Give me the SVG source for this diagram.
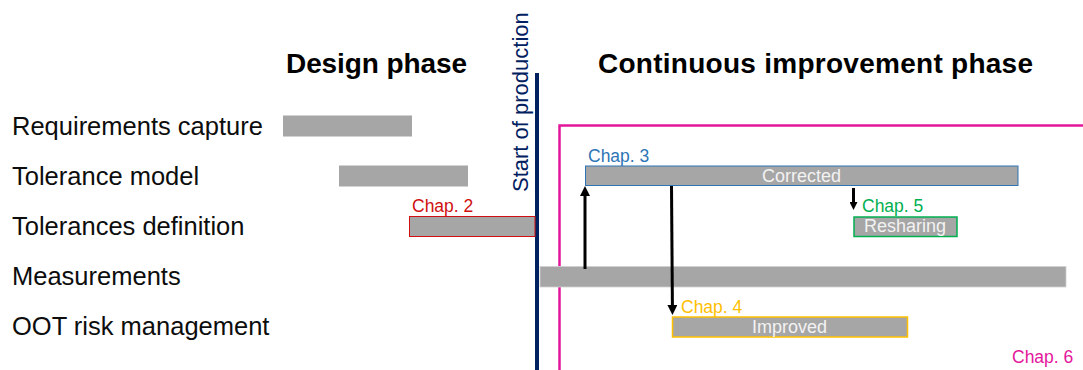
<svg xmlns="http://www.w3.org/2000/svg" width="1083" height="370" viewBox="0 0 1083 370">
<style>
text{font-family:"Liberation Sans",Arial,sans-serif}
.lbl{font-size:25.5px;fill:#0d0d0d}
.head{font-size:28px;font-weight:bold;fill:#000}
.bar{fill:#a6a6a6}
.chap{font-size:17.5px}
.inner{font-size:18px;fill:#f2f2f2;text-anchor:middle}
.conn{stroke:#000;stroke-width:3;fill:none}
</style>
<defs>
<marker id="ah" viewBox="0 0 10 10" refX="0" refY="5" markerWidth="10" markerHeight="10" markerUnits="userSpaceOnUse" orient="auto">
<path d="M0,0 L10,5 L0,10 z" fill="#000"/>
</marker>
<marker id="ahs" viewBox="0 0 10 10" refX="0" refY="5" markerWidth="10" markerHeight="8" markerUnits="userSpaceOnUse" orient="auto">
<path d="M0,0 L10,5 L0,10 z" fill="#000"/>
</marker>
</defs>
<rect width="1083" height="370" fill="#fff"/>

<g id="headings">
<text class="head" x="286" y="73" textLength="181">Design phase</text>
<text class="head" x="598" y="73" textLength="435">Continuous improvement phase</text>
</g>

<g id="row-labels">
<text class="lbl" x="12" y="135">Requirements capture</text>
<text class="lbl" x="12" y="185">Tolerance model</text>
<text class="lbl" x="12" y="235">Tolerances definition</text>
<text class="lbl" x="12" y="285">Measurements</text>
<text class="lbl" x="12" y="335">OOT risk management</text>
</g>

<g id="chap6-frame">
<path d="M1083,125.5 H559.5 V370" fill="none" stroke="#e3169b" stroke-width="2.5"/>
<text class="chap" x="1012" y="363" fill="#e3169b">Chap. 6</text>
</g>

<g id="start-of-production">
<line x1="537" y1="73" x2="537" y2="370" stroke="#002060" stroke-width="4"/>
<text x="0" y="0" transform="translate(528,192) rotate(-90)" font-size="22" fill="#002060">Start of production</text>
</g>

<g id="requirements-capture">
<rect class="bar" x="283" y="115.5" width="129" height="21"/>
</g>

<g id="tolerance-model">
<rect class="bar" x="339" y="165.5" width="129" height="21"/>
</g>

<g id="tolerances-definition">
<rect class="bar" x="409.5" y="216.5" width="125.5" height="20" stroke="#d01010" stroke-width="1"/>
<text class="chap" x="412" y="211.5" fill="#d01010">Chap. 2</text>
</g>

<g id="measurements">
<rect class="bar" x="540" y="266.5" width="526" height="20.5" stroke="#d0d0d0" stroke-width="0.8"/>
</g>

<g id="corrected">
<rect class="bar" x="585.5" y="166" width="432.5" height="19.5" stroke="#2e75b6" stroke-width="1"/>
<text class="inner" x="801.5" y="182">Corrected</text>
<text class="chap" x="588" y="161.5" fill="#2e75b6">Chap. 3</text>
</g>

<g id="resharing">
<rect class="bar" x="854" y="217" width="103" height="19.5" stroke="#00b050" stroke-width="1.5"/>
<text class="inner" x="905" y="232">Resharing</text>
<text class="chap" x="862" y="211.5" fill="#00b050">Chap. 5</text>
</g>

<g id="improved">
<rect class="bar" x="672.5" y="317" width="235" height="20" stroke="#ffc000" stroke-width="1.5"/>
<text class="inner" x="789.5" y="333">Improved</text>
<text class="chap" x="681" y="313" fill="#ffc000">Chap. 4</text>
</g>

<g id="connectors">
<line class="conn" x1="585" y1="269" x2="585" y2="196" marker-end="url(#ah)"/>
<line class="conn" x1="671.5" y1="186" x2="672.4" y2="305" marker-end="url(#ah)"/>
<line class="conn" x1="853.5" y1="188" x2="853.5" y2="202" marker-end="url(#ahs)"/>
</g>
</svg>
